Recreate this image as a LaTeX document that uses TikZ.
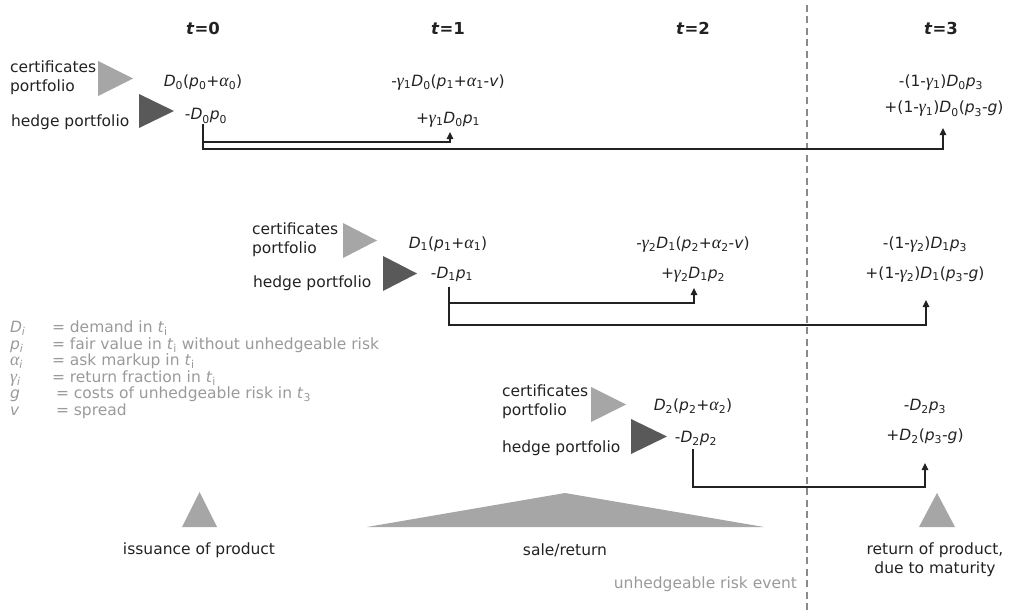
\documentclass[tikz,border=0pt]{standalone}
\usepackage{fontspec}
\setmainfont{DejaVu Sans}
\newfontfamily\grkfont[Scale=1.15]{Liberation Serif}
\usetikzlibrary{arrows.meta,calc}
\definecolor{ink}{HTML}{222222}
\definecolor{lightg}{HTML}{A6A6A6}
\definecolor{darkg}{HTML}{595959}
\definecolor{legg}{HTML}{9A9A9A}
\definecolor{dashg}{HTML}{8A8A8A}
\newcommand{\mvar}[1]{\textit{#1}}
\newcommand{\mgreek}[1]{{\grkfont\itshape #1}}
\newcommand{\msub}[1]{\textsubscript{#1}}
\begin{document}
\begin{tikzpicture}[x=1pt,y=-1pt,
  every node/.style={inner sep=0pt,outer sep=0pt,text=ink,font=\fontsize{15.5}{19}\selectfont},
  lbl/.style={anchor=base},
  hdr/.style={anchor=base,font=\fontsize{16.5}{19}\selectfont\bfseries},
  leg/.style={anchor=base west,text=legg},
  port/.style={anchor=center,align=left},
  conn/.style={draw=ink,line width=1.2pt,-{Triangle[width=6.5pt,length=7pt]}},
  lighttri/.style={fill=lightg},
  darktri/.style={fill=darkg},
  evtri/.style={fill=lightg}]
\useasboundingbox (0,0) rectangle (1010,610);

% unhedgeable risk event line
\draw[dashg,line width=1.6pt,dash pattern=on 7pt off 4.5pt] (807,5) -- (807,610);

% headers
\node[hdr] (T0) at (203,34.5) {\textit{t}=0};
\node[hdr] (T1) at (448,34.5) {\textit{t}=1};
\node[hdr] (T2) at (693,34.5) {\textit{t}=2};
\node[hdr] (T3) at (941,34.5) {\textit{t}=3};

% ---- row 1 ----
\node[port,anchor=west] (c0) at (10,77.7) {certificates\\portfolio};
\node[lbl,anchor=base west] (h0) at (11,126) {hedge portfolio};
\fill[lighttri] (98,61) -- (133,78.5) -- (98,96) -- cycle;
\fill[darktri] (139,94) -- (174,111) -- (139,128) -- cycle;
\node[lbl] (a0) at (203,86) {\mvar{D}\msub{0}(\mvar{p}\msub{0}+\mgreek{α}\msub{0})};
\node[lbl] (b0) at (206,120) {-\mvar{D}\msub{0}\mvar{p}\msub{0}};
\node[lbl] (a1) at (448,86) {-\mgreek{γ}\msub{1}\mvar{D}\msub{0}(\mvar{p}\msub{1}+\mgreek{α}\msub{1}-\mvar{v})};
\node[lbl] (b1) at (448,123) {+\mgreek{γ}\msub{1}\mvar{D}\msub{0}\mvar{p}\msub{1}};
\node[lbl] (a3) at (941,86) {-(1-\mgreek{γ}\msub{1})\mvar{D}\msub{0}\mvar{p}\msub{3}};
\node[lbl] (b3) at (944,113) {+(1-\mgreek{γ}\msub{1})\mvar{D}\msub{0}(\mvar{p}\msub{3}-\mvar{g})};
\draw[conn] ($(b0.base -| a0.base)+(0,4)$) -- ++(0,18) -| ($(b1.base)+(2,9)$);
\draw[conn] ($(b0.base -| a0.base)+(0,4)$) -- ++(0,25) -| ($(b3.base)+(-1,15)$);

% ---- row 2 ----
\node[port,anchor=west] (c1) at (252,239.5) {certificates\\portfolio};
\node[lbl,anchor=base west] (h1) at (253,287) {hedge portfolio};
\fill[lighttri] (343,223) -- (377,240.5) -- (343,258) -- cycle;
\fill[darktri] (383,256) -- (417,273.5) -- (383,291) -- cycle;
\node[lbl] (a1p) at (448,248) {\mvar{D}\msub{1}(\mvar{p}\msub{1}+\mgreek{α}\msub{1})};
\node[lbl] (b1p) at (452,278) {-\mvar{D}\msub{1}\mvar{p}\msub{1}};
\node[lbl] (a2p) at (693,248) {-\mgreek{γ}\msub{2}\mvar{D}\msub{1}(\mvar{p}\msub{2}+\mgreek{α}\msub{2}-\mvar{v})};
\node[lbl] (b2p) at (693,278) {+\mgreek{γ}\msub{2}\mvar{D}\msub{1}\mvar{p}\msub{2}};
\node[lbl] (a3p) at (925,248) {-(1-\mgreek{γ}\msub{2})\mvar{D}\msub{1}\mvar{p}\msub{3}};
\node[lbl] (b3p) at (925,278) {+(1-\mgreek{γ}\msub{2})\mvar{D}\msub{1}(\mvar{p}\msub{3}-\mvar{g})};
\draw[conn] ($(b1p.base -| a1p.base)+(1,9)$) -- ++(0,16) -| ($(b2p.base)+(1,10)$);
\draw[conn] ($(b1p.base -| a1p.base)+(1,9)$) -- ++(0,38) -| ($(b3p.base)+(1,22)$);

% ---- row 3 ----
\node[port,anchor=west] (c2) at (502,401.7) {certificates\\portfolio};
\node[lbl,anchor=base west] (h2) at (502,452) {hedge portfolio};
\fill[lighttri] (591,387) -- (626,404.5) -- (591,422) -- cycle;
\fill[darktri] (631,419) -- (667,436.5) -- (631,454) -- cycle;
\node[lbl] (a2pp) at (693,410) {\mvar{D}\msub{2}(\mvar{p}\msub{2}+\mgreek{α}\msub{2})};
\node[lbl] (b2pp) at (696,442) {-\mvar{D}\msub{2}\mvar{p}\msub{2}};
\node[lbl] (a3pp) at (925,410) {-\mvar{D}\msub{2}\mvar{p}\msub{3}};
\node[lbl] (b3pp) at (925,440) {+\mvar{D}\msub{2}(\mvar{p}\msub{3}-\mvar{g})};
\draw[conn] ($(b2pp.base)+(-3,7)$) -- ++(0,38) -| ($(b3pp.base)+(0,23)$);

% ---- legend ----
\node[leg] (lD) at (10,332.5) {\mvar{D}\msub{\mvar{i}}};
\node[leg] (lDt) at (52,332.5) {= demand in \mvar{t}\msub{i}};
\node[leg] (lp) at (10,349) {\mvar{p}\msub{\mvar{i}}};
\node[leg] (lpt) at (52,349) {= fair value in \mvar{t}\msub{i} without unhedgeable risk};
\node[leg] (la) at (10,365.5) {\mgreek{α}\msub{\mvar{i}}};
\node[leg] (lat) at (52,365.5) {= ask markup in \mvar{t}\msub{i}};
\node[leg] (lg) at (10,382) {\mgreek{γ}\msub{\mvar{i}}};
\node[leg] (lgt) at (52,382) {= return fraction in \mvar{t}\msub{i}};
\node[leg] (lc) at (10,398.5) {\mvar{g}};
\node[leg] (lct) at (56,398.5) {= costs of unhedgeable risk in \mvar{t}\msub{3}};
\node[leg] (lv) at (10,415) {\mvar{v}};
\node[leg] (lvt) at (56,415) {= spread};

% ---- bottom events ----
\fill[evtri] (182,527) -- (199.5,492) -- (217,527) -- cycle;
\fill[evtri] (367,527) -- (565,493) -- (764,527) -- cycle;
\fill[evtri] (919,527) -- (937,493) -- (955,527) -- cycle;
\node[lbl] (ev0) at (199,554) {issuance of product};
\node[lbl] (ev1) at (565,555) {sale/return};
\node[anchor=center,align=center] (ev3) at (935,560) {return of product,\\due to maturity};
\node[leg,anchor=base east] (risk) at (797,588) {unhedgeable risk event};
\end{tikzpicture}
\end{document}
